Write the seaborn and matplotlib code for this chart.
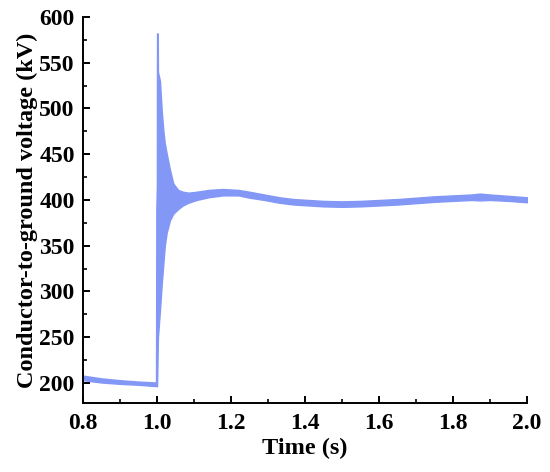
import numpy as np
import pandas as pd
import matplotlib
matplotlib.use("Agg")
import matplotlib.pyplot as plt
from matplotlib.ticker import MultipleLocator
import seaborn as sns

time_s = [0.8, 0.85, 0.9, 0.95, 0.999, 1.0, 1.002, 1.0025, 1.008, 1.0127, 1.017,
          1.021, 1.026, 1.035, 1.044, 1.057, 1.07, 1.085, 1.107, 1.14, 1.178,
          1.22, 1.25, 1.29, 1.33, 1.37, 1.41, 1.45, 1.5, 1.55, 1.6, 1.65, 1.7,
          1.75, 1.8, 1.85, 1.873, 1.9, 1.95, 2.0]
upper_kv = [208, 205, 203, 201.5, 200.5, 582, 582, 540, 530, 498, 476,
            462, 451, 433, 418, 411, 409, 408, 409, 411, 412,
            411, 409, 406, 403, 401, 400, 399, 398.5, 399, 400, 401, 402.5,
            404, 405, 406, 407, 406, 404.5, 403]
lower_kv = [203, 200.5, 199, 198, 196.5, 196.5, 240, 250, 280, 308, 330,
            350, 364, 378, 385, 390, 394, 397, 400, 403, 405,
            405, 402.5, 400, 397, 395, 394, 393, 392.5, 393, 394, 395, 396.5,
            398, 399, 400, 399.5, 400, 399, 397.5]

x_ticks = [0.8, 1.0, 1.2, 1.4, 1.6, 1.8, 2.0]
y_ticks = [200, 250, 300, 350, 400, 450, 500, 550, 600]

df = pd.DataFrame({"t": time_s, "up": upper_kv, "lo": lower_kv})
df["mid"] = (df["up"] + df["lo"]) / 2

sns.set_style("ticks")
plt.rcParams["font.family"] = ["Liberation Serif", "DejaVu Serif"]
plt.rcParams["font.weight"] = "bold"
plt.rcParams["text.color"] = "black"
plt.rcParams["axes.labelcolor"] = "black"

color = "#8398f6"
fig = plt.figure(figsize=(5.5, 4.72), dpi=100)
ax = fig.add_axes([0.151, 0.146, 0.807, 0.818])

ax.fill_between(df["t"], df["lo"], df["up"], color=color, linewidth=1.0,
                edgecolor=color)
sns.lineplot(data=df, x="t", y="mid", ax=ax, color=color, linewidth=1.2)

ax.set_xlim(0.8, 2.0)
ax.set_ylim(178, 600)
ax.set_xticks(x_ticks)
ax.set_yticks(y_ticks)
ax.set_xticklabels([f"{v:.1f}" for v in x_ticks])
ax.set_yticklabels([str(v) for v in y_ticks])
ax.xaxis.set_minor_locator(MultipleLocator(0.1))
ax.yaxis.set_minor_locator(MultipleLocator(25))

for s in ["top", "right"]:
    ax.spines[s].set_visible(False)
for s in ["left", "bottom"]:
    ax.spines[s].set_linewidth(1.4)
    ax.spines[s].set_color("black")

ax.tick_params(which="major", direction="in", length=5, width=1.4,
               labelsize=17, colors="black")
ax.tick_params(axis="x", which="major", pad=7)
ax.tick_params(axis="y", which="major", pad=6)
ax.tick_params(which="minor", direction="in", length=3, width=1.2,
               colors="black")
for lab in ax.get_xticklabels() + ax.get_yticklabels():
    lab.set_fontweight("bold")

ax.set_xlabel("Time (s)", fontsize=17.5, fontweight="bold", labelpad=3,
              color="black")
ax.set_ylabel("Conductor-to-ground voltage (kV)", fontsize=17.5,
              fontweight="bold", labelpad=1, color="black")

fig.savefig("out.png", dpi=100)
